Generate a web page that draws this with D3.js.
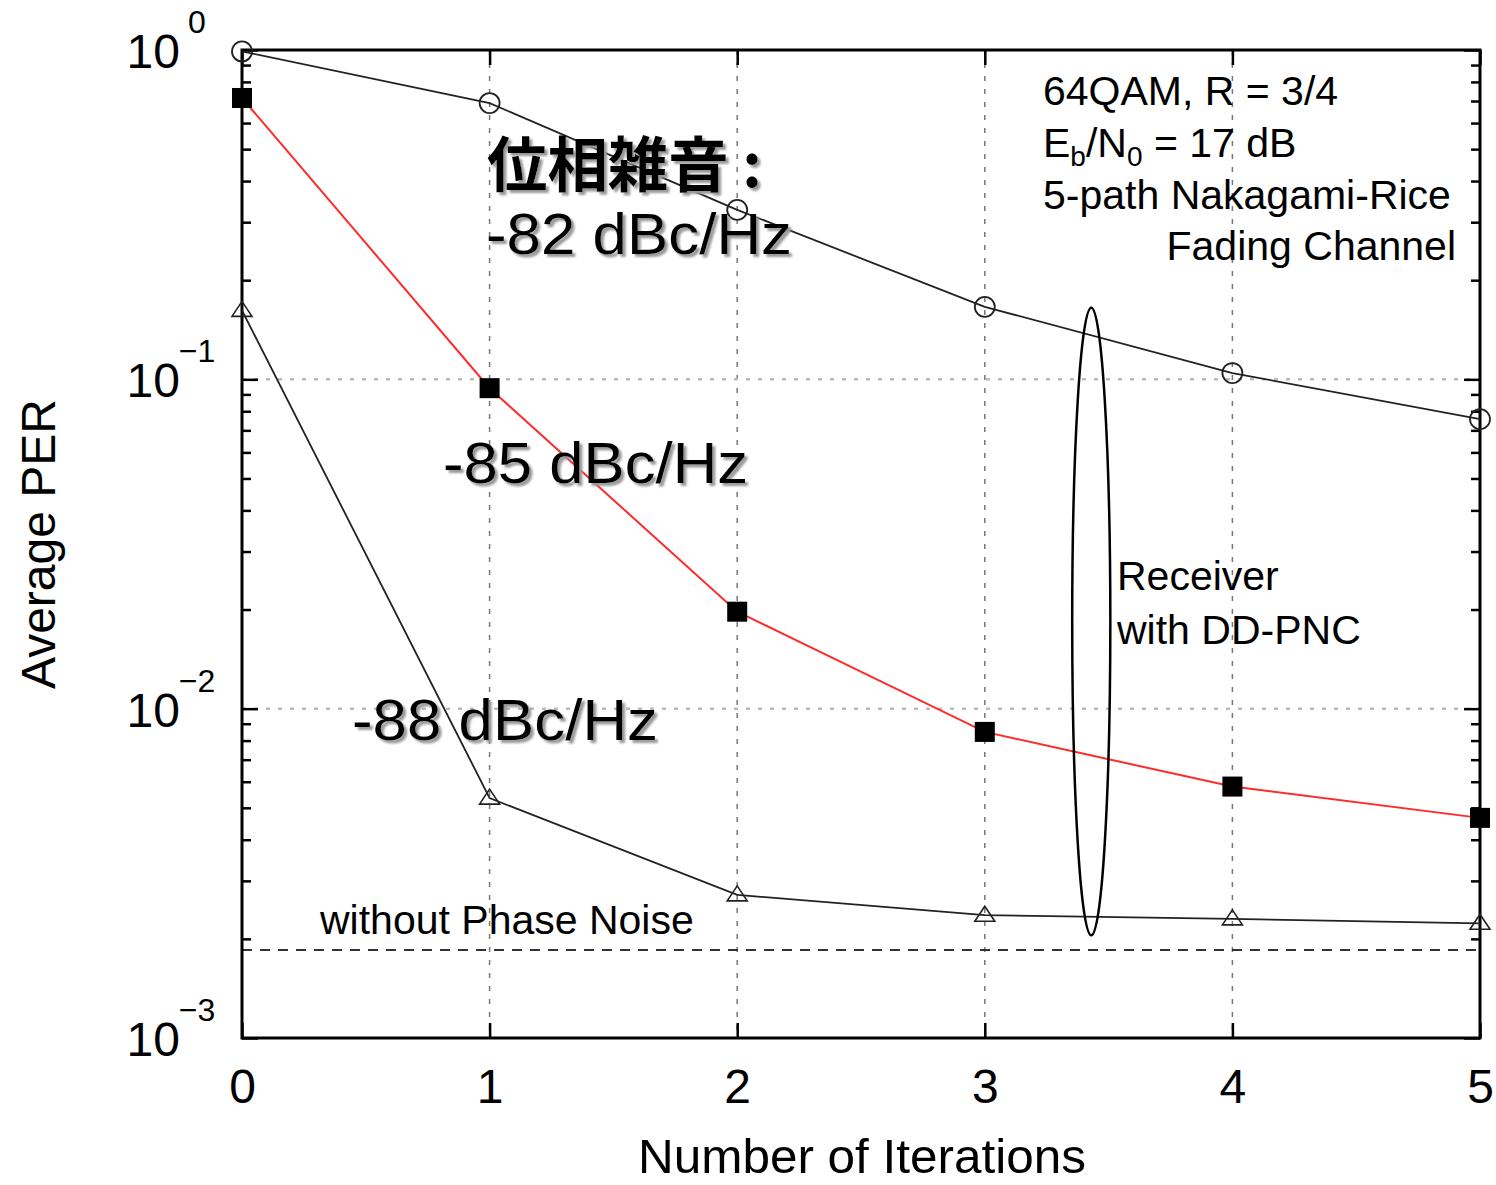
<!DOCTYPE html>
<html>
<head>
<meta charset="utf-8">
<script src="https://cdn.jsdelivr.net/npm/d3@7"></script>
<style>
    body { margin: 0; background: #fff; }
    svg { display: block; font-family: 'Liberation Sans', Arial, Helvetica, sans-serif; }
</style>
</head>
<body>
<svg width="1496" height="1185"></svg>
<script>
// values
const iterations = [0, 1, 2, 3, 4, 5]
const per82 = [0.99, 0.69, 0.327, 0.166, 0.1045, 0.0757]
const per85 = [0.715, 0.094, 0.0197, 0.0085, 0.0058, 0.00466]
const per88 = [0.162, 0.00535, 0.00272, 0.00236, 0.0023, 0.00223]
const noPhaseNoisePer = 0.00185
const xTicks = [0, 1, 2, 3, 4, 5]
const yExponents = [-3, -2, -1, 0]
const gridX = [1, 2, 3, 4]
const gridY = [0.1, 0.01]
// ellipse around the three curves, in data units
const ellipseX = 3.43
const ellipseHalfW = 0.077
const ellipseTop = 0.165
const ellipseBottom = 0.00205

const margin = { left: 242, right: 16, top: 50, bottom: 147 }
const W = 1496, H = 1185
const svg = d3.select('svg')

const x = d3.scaleLinear().domain([0, 5]).range([margin.left, W - margin.right])
const y = d3.scaleLog().domain([1e-3, 1]).range([H - margin.bottom, margin.top])

const minorTicks = []
for (let e = -3; e < 0; e++) {
    for (let m = 2; m <= 9; m++) minorTicks.push(m * Math.pow(10, e))
}
const majorY = yExponents.map(e => Math.pow(10, e))

// soft shadow for the big labels
svg.append('defs').append('filter').attr('id', 'shadow')
    .attr('x', '-5%').attr('y', '-20%').attr('width', '115%').attr('height', '150%')
    .append('feDropShadow')
    .attr('dx', 3).attr('dy', 3).attr('stdDeviation', 1)
    .attr('flood-color', '#999').attr('flood-opacity', 1)

// grid
const grid = svg.append('g').attr('class', 'grid')
grid.selectAll('.gx').data(gridX).enter().append('line')
    .attr('x1', d => x(d)).attr('x2', d => x(d))
    .attr('y1', y(1)).attr('y2', y(1e-3))
    .attr('stroke', '#777').attr('stroke-width', 1.5)
    .attr('stroke-dasharray', '5,8')
grid.selectAll('.gy').data(gridY).enter().append('line')
    .attr('x1', x(0)).attr('x2', x(5))
    .attr('y1', d => y(d)).attr('y2', d => y(d))
    .attr('stroke', '#bbb').attr('stroke-width', 2.5)
    .attr('stroke-dasharray', '4,8')

// reference line without phase noise
svg.append('line')
    .attr('x1', x(0)).attr('x2', x(5))
    .attr('y1', y(noPhaseNoisePer)).attr('y2', y(noPhaseNoisePer))
    .attr('stroke', '#333').attr('stroke-width', 2)
    .attr('stroke-dasharray', '10,8')

// ticks (inside the frame)
const tickStyle = g => {
    g.select('.domain').remove()
    g.selectAll('.tick line').attr('stroke', '#000').attr('stroke-width', 2.5)
}
svg.append('g').attr('transform', `translate(0,${y(1e-3)})`)
    .call(d3.axisBottom(x).tickValues(xTicks).tickSizeInner(-15).tickSizeOuter(0).tickPadding(31).tickFormat(d3.format('d')))
    .call(tickStyle)
    .selectAll('.tick text')
    .attr('font-size', 48).attr('fill', '#000')
    .attr('font-family', "'Liberation Sans', Arial, sans-serif")
svg.append('g').attr('transform', `translate(0,${y(1)})`)
    .call(d3.axisTop(x).tickValues(xTicks).tickSizeInner(-15).tickSizeOuter(0).tickFormat(''))
    .call(tickStyle)
svg.append('g').attr('transform', `translate(${x(0)},0)`)
    .call(d3.axisLeft(y).tickValues(majorY).tickSizeInner(-16).tickSizeOuter(0).tickFormat(''))
    .call(tickStyle)
svg.append('g').attr('transform', `translate(${x(0)},0)`)
    .call(d3.axisLeft(y).tickValues(minorTicks).tickSizeInner(-9).tickSizeOuter(0).tickFormat(''))
    .call(tickStyle)
svg.append('g').attr('transform', `translate(${x(5)},0)`)
    .call(d3.axisRight(y).tickValues(majorY).tickSizeInner(-16).tickSizeOuter(0).tickFormat(''))
    .call(tickStyle)
svg.append('g').attr('transform', `translate(${x(5)},0)`)
    .call(d3.axisRight(y).tickValues(minorTicks).tickSizeInner(-9).tickSizeOuter(0).tickFormat(''))
    .call(tickStyle)

// y tick labels 10^n
const yLab = svg.append('g').attr('class', 'ylabels')
yExponents.forEach(e => {
    const yy = y(Math.pow(10, e))
    yLab.append('text').attr('x', 180).attr('y', yy + 18)
        .attr('text-anchor', 'end').attr('font-size', 48).text('10')
    yLab.append('text').attr('x', 197).attr('y', yy - 17)
        .attr('text-anchor', 'middle').attr('font-size', 32)
        .text(e === 0 ? '0' : '\u2212' + (-e))
})

// frame
svg.append('rect')
    .attr('x', x(0)).attr('y', y(1))
    .attr('width', x(5) - x(0)).attr('height', y(1e-3) - y(1))
    .attr('fill', 'none').attr('stroke', '#000').attr('stroke-width', 3)

// axis titles
svg.append('text').attr('x', 862).attr('y', 1173)
    .attr('text-anchor', 'middle').attr('font-size', 48)
    .attr('textLength', 448).attr('lengthAdjust', 'spacingAndGlyphs')
    .text('Number of Iterations')
svg.append('text')
    .attr('transform', 'translate(55,544) rotate(-90)')
    .attr('text-anchor', 'middle').attr('font-size', 48).text('Average PER')

// series
const line = d3.line().x((d, i) => x(iterations[i])).y(d => y(d))
svg.append('path').datum(per82).attr('d', line)
    .attr('fill', 'none').attr('stroke', '#222').attr('stroke-width', 1.8)
svg.append('path').datum(per88).attr('d', line)
    .attr('fill', 'none').attr('stroke', '#222').attr('stroke-width', 1.8)
svg.append('path').datum(per85).attr('d', line)
    .attr('fill', 'none').attr('stroke', '#ff2b2b').attr('stroke-width', 2)

svg.append('g').selectAll('circle').data(per82).enter().append('circle')
    .attr('cx', (d, i) => x(iterations[i])).attr('cy', d => y(d)).attr('r', 10)
    .attr('fill', 'none').attr('stroke', '#222').attr('stroke-width', 1.8)
svg.append('g').selectAll('rect').data(per85).enter().append('rect')
    .attr('x', (d, i) => x(iterations[i]) - 10).attr('y', d => y(d) - 10)
    .attr('width', 20).attr('height', 20).attr('fill', '#000')
svg.append('g').selectAll('path').data(per88).enter().append('path')
    .attr('d', 'M0,-9L10,6L-10,6Z')
    .attr('transform', (d, i) => `translate(${x(iterations[i])},${y(d)})`)
    .attr('fill', 'none').attr('stroke', '#222').attr('stroke-width', 1.6)

// ellipse
svg.append('ellipse')
    .attr('cx', x(ellipseX))
    .attr('cy', (y(ellipseTop) + y(ellipseBottom)) / 2)
    .attr('rx', x(ellipseX + ellipseHalfW) - x(ellipseX))
    .attr('ry', (y(ellipseBottom) - y(ellipseTop)) / 2)
    .attr('fill', 'none').attr('stroke', '#000').attr('stroke-width', 2.5)

// annotations
const note = svg.append('g').attr('font-size', 41).attr('fill', '#000')
note.append('text').attr('x', 1043).attr('y', 105).text('64QAM, R = 3/4')
const eb = note.append('text').attr('x', 1043).attr('y', 157)
eb.append('tspan').text('E')
eb.append('tspan').attr('font-size', 28).attr('dy', 9).text('b')
eb.append('tspan').attr('dy', -9).text('/N')
eb.append('tspan').attr('font-size', 28).attr('dy', 9).text('0')
eb.append('tspan').attr('dy', -9).text(' = 17 dB')
note.append('text').attr('x', 1043).attr('y', 209).text('5-path Nakagami-Rice')
note.append('text').attr('x', 1456).attr('y', 260).attr('text-anchor', 'end').text('Fading Channel')
note.append('text').attr('x', 1117).attr('y', 590).text('Receiver')
note.append('text').attr('x', 1117).attr('y', 644).text('with DD-PNC')
note.append('text').attr('x', 320).attr('y', 934).attr('font-size', 41).text('without Phase Noise')

// big labels with a soft shadow
const bigLabels = [
    { text: '位相雑音 :', x: 487, y: 187, len: 275, cjk: true },
    { text: '-82 dBc/Hz', x: 486, y: 254, len: 306 },
    { text: '-85 dBc/Hz', x: 443, y: 483, len: 305 },
    { text: '-88 dBc/Hz', x: 352, y: 740, len: 306 },
]
svg.append('g').attr('filter', 'url(#shadow)')
    .selectAll('text').data(bigLabels).enter().append('text')
    .attr('x', d => d.x).attr('y', d => d.y)
    .attr('fill', '#000')
    .attr('font-size', d => d.cjk ? 60 : 57)
    .attr('font-weight', d => d.cjk ? 700 : 400)
    .attr('font-family', d => d.cjk ? "'Noto Sans CJK JP', sans-serif" : "'Liberation Sans', Arial, sans-serif")
    .attr('textLength', d => d.len).attr('lengthAdjust', 'spacingAndGlyphs')
    .text(d => d.text)
</script>
</body>
</html>
